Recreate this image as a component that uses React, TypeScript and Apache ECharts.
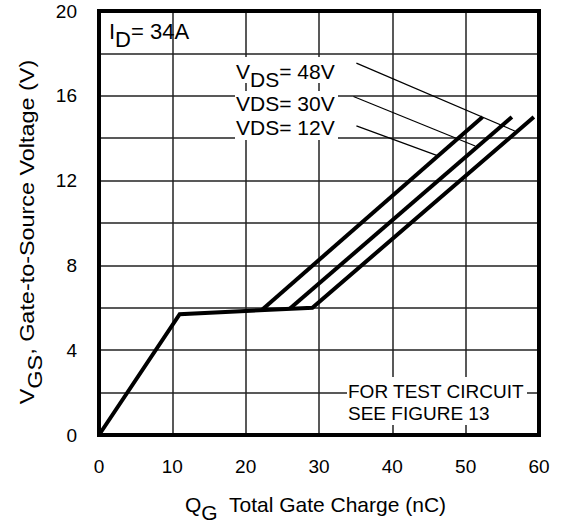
import React, { useEffect, useRef } from 'react';
import * as echarts from 'echarts';

// Axis values
const xMin = 0;
const xMax = 60;
const xStep = 10;
const yMin = 0;
const yMax = 20;
const yGridStep = 2;
const yLabelStep = 4;

// Gate charge curves: [Qg (nC), Vgs (V)]
const curve48V = [[0, 0], [11, 5.7], [29.1, 6.0], [59.3, 15]];
const curve30V = [[26, 5.95], [56.3, 15]];
const curve12V = [[22.2, 5.9], [52.3, 15]];

// Leader lines from labels to curves
const leader48V = [[35.1, 17.54], [56.7, 14.34]];
const leader30V = [[34.7, 15.97], [51.3, 13.63]];
const leader12V = [[35.1, 14.58], [46.05, 13.19]];

const FONT = '"Liberation Sans", Arial, Helvetica, sans-serif';

function subRich(size: number, shift: number) {
  return {
    n: { fontSize: size, fontFamily: FONT, fill: '#000', padding: [0, 0, shift, 0] },
    s: { fontSize: size, fontFamily: FONT, fill: '#000', padding: [shift, 0, 0, 0] },
  };
}

export default function App() {
  const ref = useRef<HTMLDivElement>(null);
  useEffect(() => {
    if (!ref.current) return;
    const chart = echarts.init(ref.current, undefined, { renderer: 'svg' });
    const lineSeries = (name: string, data: number[][], width: number) => ({
      name,
      type: 'line',
      data,
      showSymbol: false,
      symbol: 'none',
      lineStyle: { color: '#000', width, cap: 'butt', join: 'miter' },
      z: 3,
      silent: true,
    });
    chart.setOption({
      animation: false,
      backgroundColor: '#fff',
      grid: {
        left: 99,
        right: 24,
        top: 11,
        bottom: 92,
        show: true,
        borderColor: '#000',
        borderWidth: 4,
        z: 4,
      },
      xAxis: {
        type: 'value',
        min: xMin,
        max: xMax,
        interval: xStep,
        axisLine: { show: false },
        axisTick: { show: false },
        axisLabel: { fontSize: 19, fontFamily: FONT, color: '#000', margin: 22 },
        splitLine: { show: true, lineStyle: { color: '#222', width: 1.5 } },
      },
      yAxis: {
        type: 'value',
        min: yMin,
        max: yMax,
        interval: yGridStep,
        axisLine: { show: false },
        axisTick: { show: false },
        axisLabel: {
          fontSize: 19,
          fontFamily: FONT,
          color: '#000',
          margin: 22,
          formatter: (v: number) => (v % yLabelStep === 0 ? String(v) : ''),
        },
        splitLine: { show: true, lineStyle: { color: '#222', width: 1.5 } },
      },
      series: [
        lineSeries('VDS = 48V', curve48V, 4),
        lineSeries('VDS = 30V', curve30V, 4),
        lineSeries('VDS = 12V', curve12V, 4),
        lineSeries('leader 48V', leader48V, 1.2),
        lineSeries('leader 30V', leader30V, 1.2),
        lineSeries('leader 12V', leader12V, 1.2),
      ],
      graphic: [
        { type: 'rect', z: 5, shape: { x: 235, y: 57, width: 103, height: 26 }, style: { fill: '#fff' } },
        { type: 'rect', z: 5, shape: { x: 235, y: 91, width: 103, height: 24 }, style: { fill: '#fff' } },
        { type: 'rect', z: 5, shape: { x: 235, y: 115, width: 103, height: 25 }, style: { fill: '#fff' } },
        { type: 'rect', z: 5, shape: { x: 347, y: 377, width: 180, height: 48 }, style: { fill: '#fff' } },
        {
          type: 'text', z: 6, x: 109, y: 35,
          style: { text: '{n|I}{s|D}{n|= 34A}', rich: subRich(22, 8), align: 'left', verticalAlign: 'middle' },
        },
        {
          type: 'text', z: 6, x: 236, y: 75,
          style: { text: '{n|V}{s|DS}{n|= 48V}', rich: subRich(21, 8), align: 'left', verticalAlign: 'middle' },
        },
        {
          type: 'text', z: 6, x: 236, y: 103,
          style: { text: 'VDS= 30V', font: `21px ${FONT}`, fill: '#000', align: 'left', verticalAlign: 'middle' },
        },
        {
          type: 'text', z: 6, x: 236, y: 127,
          style: { text: 'VDS= 12V', font: `21px ${FONT}`, fill: '#000', align: 'left', verticalAlign: 'middle' },
        },
        {
          type: 'text', z: 6, x: 348, y: 402,
          style: {
            text: 'FOR TEST CIRCUIT\nSEE FIGURE 13',
            font: `19px ${FONT}`, lineHeight: 22, fill: '#000', align: 'left', verticalAlign: 'middle',
          },
        },
        {
          type: 'text', z: 6, x: 185, y: 508,
          style: { text: '{n|Q}{s|G}{n|  Total Gate Charge (nC)}', rich: subRich(21, 8), align: 'left', verticalAlign: 'middle' },
        },
        {
          type: 'text', z: 6, x: 31, y: 232, rotation: Math.PI / 2, scaleX: 1.17,
          style: { text: '{n|V}{s|GS}{n|, Gate-to-Source Voltage (V)}', rich: subRich(20, 8), align: 'center', verticalAlign: 'middle' },
        },
      ],
    });
    return () => chart.dispose();
  }, []);
  return <div ref={ref} style={{ position: 'absolute', left: 0, top: 0, width: 563, height: 527 }} />;
}
